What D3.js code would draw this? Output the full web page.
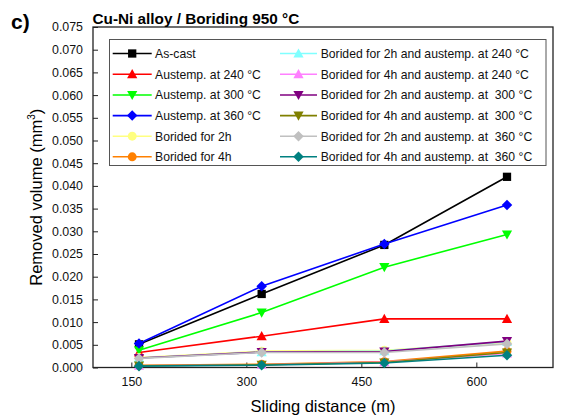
<!DOCTYPE html>
<html><head><meta charset="utf-8">
<script src="https://cdn.jsdelivr.net/npm/d3@7"></script>
<style>
body{margin:0;background:#fff;}
svg{display:block;font-family:"Liberation Sans",Arial,sans-serif;}
</style></head>
<body><svg id="c" width="563" height="419"></svg>
<script>
const distances = [160, 320, 480, 640];
const xTicks = [150, 300, 450, 600];
const yTicks = d3.range(0, 0.0751, 0.005);
const seriesNames = [
  "As-cast", "Austemp. at 240 °C", "Austemp. at 300 °C", "Austemp. at 360 °C",
  "Borided for 2h", "Borided for 4h",
  "Borided for 2h and austemp. at 240 °C", "Borided for 4h and austemp. at 240 °C",
  "Borided for 2h and austemp. at  300 °C", "Borided for 4h and austemp. at  300 °C",
  "Borided for 2h and austemp. at  360 °C", "Borided for 4h and austemp. at  360 °C"
];
const asCast      = [0.0051, 0.0162, 0.0270, 0.0420];
const aus240      = [0.0033, 0.0069, 0.0107, 0.0107];
const aus300      = [0.0038, 0.0121, 0.0221, 0.0293];
const aus360      = [0.0053, 0.0179, 0.0272, 0.0358];
const bor2h       = [0.0022, 0.0036, 0.0038, 0.0055];
const bor4h       = [0.0005, 0.0007, 0.0013, 0.0036];
const bor2h240    = [0.0021, 0.0034, 0.0036, 0.0057];
const bor4h240    = [0.0004, 0.0006, 0.0012, 0.0031];
const bor2h300    = [0.0021, 0.0034, 0.0035, 0.0058];
const bor4h300    = [0.0004, 0.0006, 0.0011, 0.0033];
const bor2h360    = [0.0020, 0.0033, 0.0033, 0.0052];
const bor4h360    = [0.0003, 0.0005, 0.0010, 0.0027];
const seriesValues = [asCast, aus240, aus300, aus360, bor2h, bor4h, bor2h240, bor4h240, bor2h300, bor4h300, bor2h360, bor4h360];
const colors = ["#000000","#ff0000","#00ff00","#0000ff","#ffff80","#ff8000","#80ffff","#ff80ff","#800080","#808000","#c0c0c0","#008080"];
const markers = ["square","tri-up","tri-down","diamond","circle","circle","tri-up","tri-up","tri-down","tri-down","diamond","diamond"];

const svg = d3.select("#c");
const L = 93, R = 553, T = 27, B = 367.5;
const x = d3.scaleLinear().domain([100, 700]).range([L, R]);
const y = d3.scaleLinear().domain([0, 0.075]).range([B, T]);

function markerPath(type, s){
  switch(type){
    case "square": return d3.symbol(d3.symbolSquare, s*s*0.95)();
    case "circle": return d3.symbol(d3.symbolCircle, Math.PI*(s/2)*(s/2)*1.1)();
    case "diamond": { const h = s*0.62; return `M0,${-h}L${h},0L0,${h}L${-h},0Z`; }
    case "tri-up": { const h = s*0.6; return `M0,${-h}L${h},${h*0.8}L${-h},${h*0.8}Z`; }
    case "tri-down": { const h = s*0.6; return `M0,${h}L${h},${-h*0.8}L${-h},${-h*0.8}Z`; }
  }
}

// axes
const yAxis = d3.axisLeft(y).tickValues(yTicks).tickSize(-5).tickPadding(10).tickFormat(d3.format(".3f"));
const xAxis = d3.axisBottom(x).tickValues(xTicks).tickSize(-5).tickPadding(9.5).tickFormat(d3.format("d"));
const gy = svg.append("g").attr("transform", `translate(${L},0)`).call(yAxis);
const gx = svg.append("g").attr("transform", `translate(0,${B})`).call(xAxis);
[gx, gy].forEach(g => {
  g.select(".domain").remove();
  g.selectAll(".tick line").attr("stroke", "#222").attr("stroke-width", 1);
  g.selectAll("text").attr("font-size", 12.4).attr("fill", "#111");
});
svg.append("rect").attr("x", L).attr("y", T).attr("width", R-L).attr("height", B-T)
  .attr("fill", "none").attr("stroke", "#222").attr("stroke-width", 1.3);

// series
const line = d3.line().x((d,i) => x(distances[i])).y(d => y(d));
seriesValues.forEach((vals, k) => {
  const g = svg.append("g");
  g.append("path").datum(vals).attr("d", line).attr("fill", "none")
    .attr("stroke", colors[k]).attr("stroke-width", 1.6);
  g.selectAll("path.m").data(vals).join("path").attr("class", "m")
    .attr("transform", (d,i) => `translate(${x(distances[i])},${y(d)})`)
    .attr("d", markerPath(markers[k], 8.5)).attr("fill", colors[k]);
});

// legend
const lg = svg.append("g");
lg.append("rect").attr("x", 109.5).attr("y", 39.5).attr("width", 436.5).attr("height", 126)
  .attr("fill", "#fff").attr("stroke", "#555").attr("stroke-width", 1);
const rowY = [53.5, 74.2, 95, 115.6, 136.2, 156.8];
seriesNames.forEach((name, k) => {
  const col = k < 6 ? 0 : 1;
  const row = k % 6;
  const x0 = col === 0 ? 112.7 : 280;
  const x1 = col === 0 ? 151.7 : 317;
  const tx = col === 0 ? 155 : 320.7;
  const yy = rowY[row];
  lg.append("line").attr("x1", x0).attr("x2", x1).attr("y1", yy).attr("y2", yy)
    .attr("stroke", colors[k]).attr("stroke-width", 1.6);
  lg.append("path").attr("transform", `translate(${(x0+x1)/2},${yy})`)
    .attr("d", markerPath(markers[k], 8.5)).attr("fill", colors[k]);
  lg.append("text").attr("x", tx).attr("y", yy + 4.3).attr("font-size", 12.2)
    .attr("fill", "#111").style("white-space", "pre").attr("xml:space", "preserve").text(name);
});

// titles
svg.append("text").attr("x", 11).attr("y", 28.5).attr("font-size", 21).attr("font-weight", "bold").text("c)");
svg.append("text").attr("x", 92.5).attr("y", 24).attr("font-size", 15.3).attr("font-weight", "bold").text("Cu-Ni alloy / Boriding 950 °C");
svg.append("text").attr("x", (L+R)/2).attr("y", 412).attr("text-anchor", "middle").attr("font-size", 16.5).text("Sliding distance (m)");
const yt = svg.append("text").attr("transform", `translate(42,${(T+B)/2}) rotate(-90)`)
  .attr("text-anchor", "middle").attr("font-size", 16.5);
yt.append("tspan").text("Removed volume (mm");
yt.append("tspan").attr("font-size", 10).attr("dy", -7).text("3");
yt.append("tspan").attr("dy", 7).text(")");
</script></body></html>
